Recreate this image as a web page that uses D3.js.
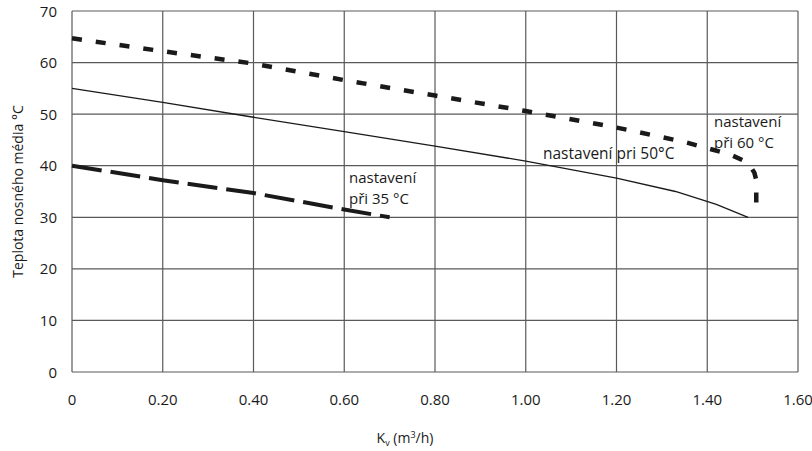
<!DOCTYPE html>
<html>
<head>
<meta charset="utf-8">
<script src="https://cdn.jsdelivr.net/npm/d3@7"></script>
<style>
  body { margin: 0; background: #fff; }
  svg text { font-family: "Open Sans", sans-serif; fill: #1a1a1a; }
</style>
</head>
<body>
<svg id="chart" width="812" height="451"></svg>
<script>
// tick values
const xTicks = [0, 0.2, 0.4, 0.6, 0.8, 1.0, 1.2, 1.4, 1.6];
const yTicks = [0, 10, 20, 30, 40, 50, 60, 70];

// setting 50 °C (thin solid)
const kv50 = [0, 0.2, 0.4, 0.6, 0.8, 1.0, 1.2, 1.33, 1.42, 1.49];
const t50 = [55, 52.3, 49.4, 46.6, 43.8, 40.9, 37.6, 35, 32.5, 30];

// setting 60 °C (short dashes)
const kv60 = [0, 0.2, 0.4, 0.6, 0.8, 1.0, 1.2, 1.35, 1.45, 1.48, 1.495, 1.504, 1.508, 1.508];
const t60 = [64.7, 62.2, 59.8, 56.6, 53.6, 50.6, 47.4, 44.6, 42.2, 41, 39.9, 38.6, 37.2, 31];

// setting 35 °C (long dashes)
const kv35 = [0, 0.2, 0.4, 0.6, 0.7];
const t35 = [40, 37.2, 34.7, 31.5, 30];

const svg = d3.select('#chart');
const margin = { top: 11, right: 14, bottom: 79, left: 72 };
const width = 812, height = 451;

const x = d3.scaleLinear().domain([0, 1.6]).range([margin.left, width - margin.right]);
const y = d3.scaleLinear().domain([0, 70]).range([height - margin.bottom, margin.top]);

// grid
svg.append('g')
  .selectAll('line')
  .data(xTicks)
  .enter()
  .append('line')
  .attr('x1', (d) => x(d)).attr('x2', (d) => x(d))
  .attr('y1', y(0)).attr('y2', y(70))
  .attr('stroke', '#5a5a5a').attr('stroke-width', 1.2);

svg.append('g')
  .selectAll('line')
  .data(yTicks)
  .enter()
  .append('line')
  .attr('x1', x(0)).attr('x2', x(1.6))
  .attr('y1', (d) => y(d)).attr('y2', (d) => y(d))
  .attr('stroke', '#5a5a5a').attr('stroke-width', 1.2);

// tick labels
svg.append('g')
  .selectAll('text')
  .data(xTicks)
  .enter()
  .append('text')
  .attr('x', (d) => x(d))
  .attr('y', y(0) + 33)
  .attr('text-anchor', 'middle')
  .style('font-size', '15px')
  .text((d) => (d === 0 ? '0' : d.toFixed(2)));

svg.append('g')
  .selectAll('text')
  .data(yTicks)
  .enter()
  .append('text')
  .attr('x', 57)
  .attr('y', (d) => y(d) + 5.5)
  .attr('text-anchor', 'end')
  .style('font-size', '15px')
  .text((d) => d);

// axis titles
const xt = svg.append('text')
  .attr('x', 405).attr('y', 443)
  .attr('text-anchor', 'middle')
  .style('font-size', '14px');
xt.append('tspan').text('K');
xt.append('tspan').attr('dy', 3).style('font-size', '9px').text('v');
xt.append('tspan').attr('dy', -3).text(' (m');
xt.append('tspan').attr('dy', -5).style('font-size', '9px').text('3');
xt.append('tspan').attr('dy', 5).text('/h)');

svg.append('text')
  .attr('transform', `translate(23, ${(y(0) + y(70)) / 2}) rotate(-90)`)
  .attr('text-anchor', 'middle')
  .style('font-size', '14px')
  .text('Teplota nosného média °C');

// curves
const line = d3.line()
  .x((d) => x(d[0]))
  .y((d) => y(d[1]));

svg.append('path')
  .datum(d3.zip(kv50, t50))
  .attr('d', line)
  .attr('fill', 'none')
  .attr('stroke', '#1a1a1a')
  .attr('stroke-width', 1.3);

svg.append('path')
  .datum(d3.zip(kv60, t60))
  .attr('d', line)
  .attr('fill', 'none')
  .attr('stroke', '#1a1a1a')
  .attr('stroke-width', 4.5)
  .attr('stroke-dasharray', '10,14');

svg.append('path')
  .datum(d3.zip(kv35, t35))
  .attr('d', line)
  .attr('fill', 'none')
  .attr('stroke', '#1a1a1a')
  .attr('stroke-width', 4)
  .attr('stroke-dasharray', '30,9');

// labels
svg.append('text')
  .attr('x', 543).attr('y', 159)
  .style('font-size', '15.5px')
  .text('nastavení pri 50°C');

const l60 = svg.append('text').attr('x', 714).attr('y', 127).style('font-size', '15px');
l60.append('tspan').text('nastavení');
l60.append('tspan').attr('x', 714).attr('dy', 21).text('při 60 °C');

const l35 = svg.append('text').attr('x', 349).attr('y', 183).style('font-size', '15px');
l35.append('tspan').text('nastavení');
l35.append('tspan').attr('x', 349).attr('dy', 21).text('při 35 °C');
</script>
</body>
</html>
